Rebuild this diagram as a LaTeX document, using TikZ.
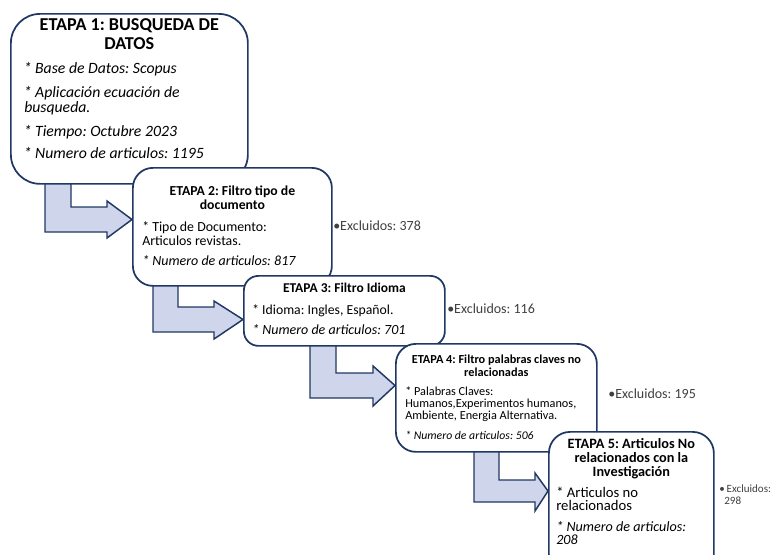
\documentclass[tikz,border=0pt]{standalone}
\usepackage{fontspec}
\setmainfont{Carlito}
\usetikzlibrary{calc}
\definecolor{navy}{RGB}{31,56,100}
\definecolor{arrowfill}{RGB}{207,213,234}
\definecolor{excl}{RGB}{64,64,64}
\newcommand\bentarrow[9]{%
  \draw[bentarrow] (#1,#3) -- (#1,#5) -- (#6,#5) -- (#6,#8) -- (#9,{(#4+#5)/2}) -- (#6,#7) -- (#6,#4) -- (#2,#4) -- (#2,#3) -- cycle;}
\frenchspacing
\begin{document}
\begin{tikzpicture}[x=0.75pt,y=-0.75pt,
  box/.style={draw=navy, line width=1.3pt, fill=white, anchor=north west, inner sep=0pt},
  bentarrow/.style={draw=navy, line width=1.1pt, fill=arrowfill, line join=miter},
  ttl/.style={anchor=base, inner sep=0pt},
  txt/.style={anchor=base west, inner sep=0pt},
  excl/.style={anchor=base west, inner sep=0pt, text=excl}]
\useasboundingbox (0,0) rectangle (777,554);

% bent block arrows (behind boxes)
\bentarrow{45}{71}{183}{207}{232}{107}{201}{238}{132}
\bentarrow{153}{178}{285}{307}{332}{214}{301}{339}{243}
\bentarrow{310}{336}{344}{373}{398}{373}{366}{406}{395}
\bentarrow{474}{499}{451}{480}{502}{535}{473}{511}{548}

% ETAPA 1
\node[box, rounded corners=22pt, minimum width={237*0.75pt}, minimum height={170*0.75pt}] (b1) at (10,13) {};
\begin{scope}[font=\fontsize{13.6}{16}\selectfont\bfseries]
\node[ttl] (t1a) at ($(b1.north)+(0,17)$) {ETAPA 1: BUSQUEDA DE};
\node[ttl] (t1b) at ($(b1.north)+(0,36)$) {DATOS};
\end{scope}
\begin{scope}[font=\fontsize{11.8}{13}\selectfont\itshape]
\node[txt] (l1a) at ($(b1.north west)+(13.5,60.3)$) {* Base de Datos: Scopus};
\node[txt] (l1b) at ($(b1.north west)+(13.5,84.3)$) {* Aplicación ecuación de};
\node[txt] (l1c) at ($(b1.north west)+(14,99.7)$) {busqueda.};
\node[txt] (l1d) at ($(b1.north west)+(13.5,123.7)$) {* Tiempo: Octubre 2023};
\node[txt] (l1e) at ($(b1.north west)+(13.5,145.3)$) {* Numero de articulos: 1195};
\end{scope}

% ETAPA 2
\node[box, rounded corners=15pt, minimum width={199*0.75pt}, minimum height={118*0.75pt}] (b2) at (132,167) {};
\begin{scope}[font=\fontsize{10.3}{12}\selectfont\bfseries]
\node[ttl] (t2a) at ($(b2.north)+(0,28)$) {ETAPA 2: Filtro tipo de};
\node[ttl] (t2b) at ($(b2.north)+(0,42)$) {documento};
\end{scope}
\begin{scope}[font=\fontsize{10.4}{12}\selectfont]
\node[txt] (l2a) at ($(b2.north west)+(10,64.7)$) {* Tipo de Documento:};
\node[txt] (l2b) at ($(b2.north west)+(10,78)$) {Articulos revistas.};
\node[txt, font=\fontsize{10.5}{12}\selectfont\itshape] (l2c) at ($(b2.north west)+(10,98)$) {* Numero de articulos: 817};
\end{scope}
\node[excl, font=\fontsize{10.5}{12}\selectfont] (e2) at (333,230) {•Excluidos: 378};

% ETAPA 3
\node[box, rounded corners=11pt, minimum width={201*0.75pt}, minimum height={70*0.75pt}] (b3) at (243,275) {};
\node[ttl, font=\fontsize{10.1}{12}\selectfont\bfseries] (t3a) at ($(b3.north)+(0,17.7)$) {ETAPA 3: Filtro Idioma};
\node[txt, font=\fontsize{10.3}{12}\selectfont] (l3a) at ($(b3.north west)+(9,39)$) {* Idioma: Ingles, Español.};
\node[txt, font=\fontsize{10.5}{12}\selectfont\itshape] (l3b) at ($(b3.north west)+(9,59)$) {* Numero de articulos: 701};
\node[excl, font=\fontsize{10.5}{12}\selectfont] (e3) at (447,313) {•Excluidos: 116};

% ETAPA 4
\node[box, rounded corners=15pt, minimum width={201*0.75pt}, minimum height={108*0.75pt}] (b4) at (395,343) {};
\begin{scope}[font=\fontsize{9.2}{11}\selectfont\bfseries]
\node[ttl] (t4a) at ($(b4.north)+(0,20.5)$) {ETAPA 4: Filtro palabras claves no};
\node[ttl] (t4b) at ($(b4.north)+(0,33)$) {relacionadas};
\end{scope}
\begin{scope}[font=\fontsize{9.2}{11}\selectfont]
\node[txt] (l4a) at ($(b4.north west)+(10,52.5)$) {* Palabras Claves:};
\node[txt] (l4b) at ($(b4.north west)+(10,64.5)$) {Humanos,Experimentos humanos,};
\node[txt] (l4c) at ($(b4.north west)+(10,76.5)$) {Ambiente, Energia Alternativa.};
\node[txt, font=\fontsize{8.8}{10}\selectfont\itshape] (l4d) at ($(b4.north west)+(10,96)$) {* Numero de articulos: 506};
\end{scope}
\node[excl, font=\fontsize{10.5}{12}\selectfont] (e4) at (608,398) {•Excluidos: 195};

% ETAPA 5
\node[box, rounded corners=16pt, minimum width={165*0.75pt}, minimum height={144*0.75pt}] (b5) at (548,431) {};
\begin{scope}[font=\fontsize{10.7}{12}\selectfont\bfseries]
\node[ttl] (t5a) at ($(b5.north)+(0,17)$) {ETAPA 5: Articulos No};
\node[ttl] (t5b) at ($(b5.north)+(0,31.7)$) {relacionados con la};
\node[ttl] (t5c) at ($(b5.north)+(0,45.7)$) {Investigación};
\end{scope}
\begin{scope}[font=\fontsize{11}{12}\selectfont]
\node[txt] (l5a) at ($(b5.north west)+(8,66.3)$) {* Articulos no};
\node[txt] (l5b) at ($(b5.north west)+(8,79)$) {relacionados};
\node[txt, font=\fontsize{10.6}{12}\selectfont\itshape] (l5c) at ($(b5.north west)+(8,100.7)$) {* Numero de articulos:};
\node[txt, font=\fontsize{10.6}{12}\selectfont\itshape] (l5d) at ($(b5.north west)+(8,113)$) {208};
\end{scope}
\node[excl, font=\fontsize{8.3}{9}\selectfont] (e5a) at (719,492.7) {•\,Excluidos:};
\node[excl, font=\fontsize{8.3}{9}\selectfont] (e5b) at (724,504) {298};
\end{tikzpicture}
\end{document}
